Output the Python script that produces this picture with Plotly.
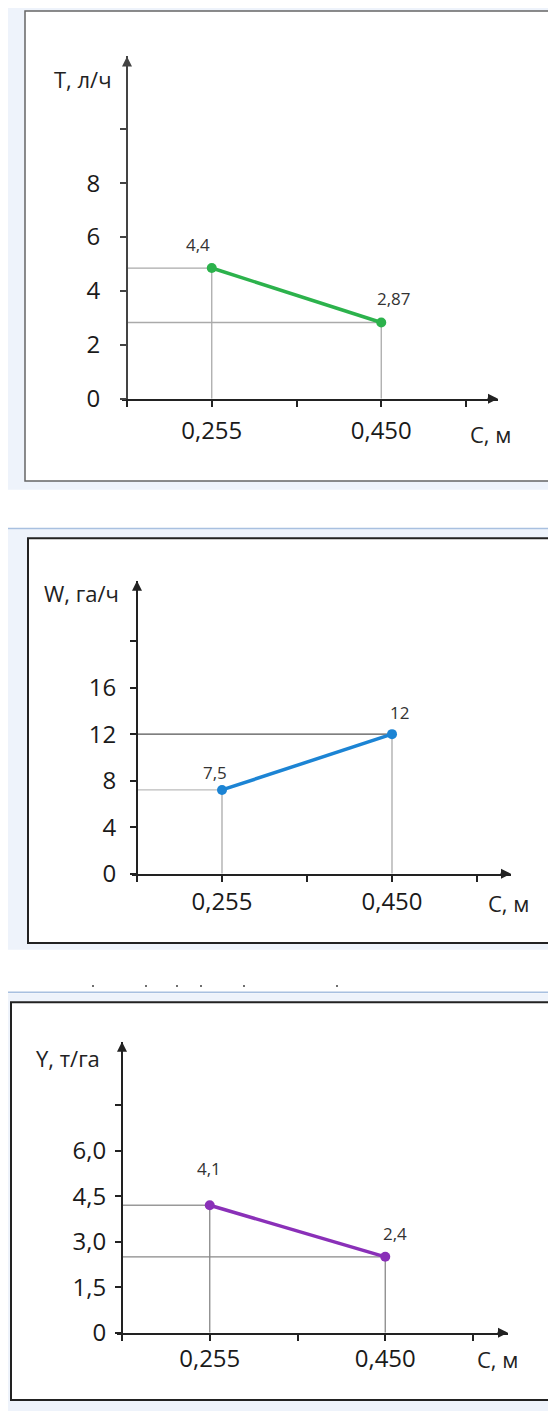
import plotly.graph_objects as go

WIN_W, WIN_H = 556, 1419
PAGE_MARGIN = 8  # html body margin around the figure
FIG_W, FIG_H = WIN_W - 2 * PAGE_MARGIN, WIN_H - 2 * PAGE_MARGIN
FONT = "Open Sans"

# shared x axis: C, m (schematic, two measured widths)
c_ticks = ["", "0,255", "", "0,450", ""]
c_points = ["0,255", "0,450"]

# T, l/h
t_ticks = [0, 2, 4, 6, 8, 10]
t_tick_text = ["0", "2", "4", "6", "8", ""]
t_values = [4.85, 2.83]
t_labels = ["4,4", "2,87"]

# W, ha/h
w_ticks = [0, 4, 8, 12, 16, 20]
w_tick_text = ["0", "4", "8", "12", "16", ""]
w_values = [7.2, 12.0]
w_labels = ["7,5", "12"]

# Y, t/ha
y_ticks = [0, 1.5, 3.0, 4.5, 6.0, 7.5]
y_tick_text = ["0", "1,5", "3,0", "4,5", "6,0", ""]
y_values = [4.2, 2.5]
y_labels = ["4,1", "2,4"]


# window pixel -> paper fraction
def px_x(p):
    return (p - PAGE_MARGIN) / FIG_W


def px_y(p):
    return 1 - (p - PAGE_MARGIN) / FIG_H


panels = [
    dict(title="T, л/ч", ticks=t_ticks, tick_text=t_tick_text, values=t_values,
         labels=t_labels, color="#2cb24c",
         x_left=122, x_origin=127, x_unit=84.75, x_right=498,
         y_origin=403, y_top=57, y_unit=27.25,
         title_pos=(83, 80), c_pos=(490, 439), y_standoff=15, x_standoff=3,
         label_shift=[(-14, 24), (13, 24)],
         h_colors=["#aaaaaa", "#aaaaaa"], v_color="#aaaaaa", axis_color="#444444"),
    dict(title="W, га/ч", ticks=w_ticks, tick_text=w_tick_text, values=w_values,
         labels=w_labels, color="#1c84d4",
         x_left=132, x_origin=137, x_unit=85, x_right=511,
         y_origin=883, y_top=587, y_unit=11.75,
         title_pos=(81, 599), c_pos=(508, 913), y_standoff=9, x_standoff=0,
         label_shift=[(-7, 17), (7, 22)],
         h_colors=["#bbbbbb", "#555555"], v_color="#aaaaaa", axis_color="#222222"),
    dict(title="Y, т/га", ticks=y_ticks, tick_text=y_tick_text, values=y_values,
         labels=y_labels, color="#8a30b8",
         x_left=117, x_origin=122, x_unit=87.75, x_right=508,
         y_origin=1347, y_top=1053, y_unit=30.67,
         title_pos=(68, 1069), c_pos=(497, 1374), y_standoff=4, x_standoff=-2,
         label_shift=[(-1, 37), (10, 23)],
         h_colors=["#999999", "#888888"], v_color="#888888", axis_color="#222222"),
]

fig = go.Figure()
annotations = []
shapes = []

# panel frames (copied screenshot look)
bg = "#eef3fb"
shapes += [
    dict(type="rect", xref="paper", yref="paper", x0=px_x(8), x1=px_x(560),
         y0=px_y(495), y1=px_y(5), fillcolor=bg, line=dict(width=0), layer="below"),
    dict(type="rect", xref="paper", yref="paper", x0=px_x(25), x1=px_x(553),
         y0=px_y(486), y1=px_y(11), fillcolor="white",
         line=dict(color="#666666", width=1.5), layer="below"),
    dict(type="rect", xref="paper", yref="paper", x0=px_x(4), x1=px_x(560),
         y0=px_y(960), y1=px_y(535), fillcolor=bg, line=dict(width=0), layer="below"),
    dict(type="line", xref="paper", yref="paper", x0=px_x(4), x1=px_x(560),
         y0=px_y(534), y1=px_y(534), line=dict(color="#a8c0e0", width=1.5), layer="below"),
    dict(type="rect", xref="paper", yref="paper", x0=px_x(28), x1=px_x(566),
         y0=px_y(953), y1=px_y(544), fillcolor="white",
         line=dict(color="#222222", width=2), layer="below"),
    dict(type="rect", xref="paper", yref="paper", x0=px_x(0), x1=px_x(560),
         y0=px_y(1430), y1=px_y(1004), fillcolor=bg, line=dict(width=0), layer="below"),
    dict(type="line", xref="paper", yref="paper", x0=px_x(0), x1=px_x(560),
         y0=px_y(1003), y1=px_y(1003), line=dict(color="#a8c0e0", width=1.5), layer="below"),
    dict(type="rect", xref="paper", yref="paper", x0=px_x(11), x1=px_x(566),
         y0=px_y(1415), y1=px_y(1013), fillcolor="white",
         line=dict(color="#222222", width=2), layer="below"),
]
# stray marks left over above the last panel
for sx in [93, 146, 177, 201, 244, 337]:
    shapes.append(dict(type="rect", xref="paper", yref="paper",
                       x0=px_x(sx - 0.7), x1=px_x(sx + 0.7),
                       y0=px_y(997.5), y1=px_y(995.5),
                       fillcolor="#333333", line=dict(width=0), layer="below"))

x_pos = [c_ticks.index(c) for c in c_points]

for i, p in enumerate(panels, start=1):
    xa = "x" if i == 1 else f"x{i}"
    ya = "y" if i == 1 else f"y{i}"
    x_range = [(p["x_left"] - p["x_origin"]) / p["x_unit"],
               (p["x_right"] - p["x_origin"]) / p["x_unit"]]
    y_range = [0, (p["y_origin"] - p["y_top"]) / p["y_unit"]]

    # guide lines to the axes
    for xv, yv, hc in zip(x_pos, p["values"], p["h_colors"]):
        fig.add_trace(go.Scatter(x=[xv, xv], y=[yv, 0], mode="lines",
                                 line=dict(color=p["v_color"], width=1.3),
                                 xaxis=xa, yaxis=ya, hoverinfo="skip"))
        fig.add_trace(go.Scatter(x=[0, xv], y=[yv, yv], mode="lines",
                                 line=dict(color=hc, width=1.3),
                                 xaxis=xa, yaxis=ya, hoverinfo="skip"))

    fig.add_trace(go.Scatter(x=x_pos, y=p["values"], mode="lines+markers",
                             line=dict(color=p["color"], width=3.5),
                             marker=dict(size=10, color=p["color"]),
                             xaxis=xa, yaxis=ya))

    for xv, yv, lab, (dx, dy) in zip(x_pos, p["values"], p["labels"], p["label_shift"]):
        annotations.append(dict(x=xv, y=yv, xref=xa, yref=ya, text=lab,
                                showarrow=False, xshift=dx, yshift=dy,
                                xanchor="center", yanchor="middle",
                                font=dict(family=FONT, size=17, color="#333333")))

    # axis arrowheads
    annotations.append(dict(x=x_range[1], y=0, xref=xa, yref=ya, ax=-12, ay=0,
                            text="", showarrow=True, arrowhead=2, arrowsize=1,
                            arrowwidth=2, arrowcolor="#222222"))
    annotations.append(dict(x=0, y=y_range[1], xref=xa, yref=ya, ax=0, ay=12,
                            text="", showarrow=True, arrowhead=2, arrowsize=1,
                            arrowwidth=2, arrowcolor=p["axis_color"]))

    annotations.append(dict(x=px_x(p["title_pos"][0]), y=px_y(p["title_pos"][1]),
                            xref="paper", yref="paper", text=p["title"],
                            xanchor="center", yanchor="middle",
                            showarrow=False, font=dict(family=FONT, size=22, color="#222222")))
    annotations.append(dict(x=px_x(p["c_pos"][0]), y=px_y(p["c_pos"][1]),
                            xref="paper", yref="paper", text="C, м",
                            xanchor="center", yanchor="middle",
                            showarrow=False, font=dict(family=FONT, size=22, color="#222222")))

    fig.layout[f"xaxis{'' if i == 1 else i}"] = dict(
        domain=[px_x(p["x_left"]), px_x(p["x_right"])], range=x_range,
        anchor=ya, showline=True, linecolor="#222222", linewidth=2,
        ticks="outside", ticklen=6, tickwidth=1.5, tickcolor="#222222",
        tickvals=list(range(len(c_ticks))), ticktext=c_ticks,
        ticklabelstandoff=p["x_standoff"],
        showgrid=False, zeroline=False, fixedrange=True,
        tickfont=dict(family=FONT, size=24, color="#1a1a1a"))
    fig.layout[f"yaxis{'' if i == 1 else i}"] = dict(
        domain=[px_y(p["y_origin"]), px_y(p["y_top"])], range=y_range,
        anchor="free", position=px_x(p["x_origin"]),
        showline=True, linecolor=p["axis_color"], linewidth=2,
        ticks="outside", ticklen=6, tickwidth=1.5, tickcolor=p["axis_color"],
        tickvals=p["ticks"], ticktext=p["tick_text"],
        ticklabelstandoff=p["y_standoff"],
        showgrid=False, zeroline=False, fixedrange=True,
        tickfont=dict(family=FONT, size=24, color="#1a1a1a"))

fig.update_layout(
    width=FIG_W, height=FIG_H, autosize=False,
    margin=dict(l=0, r=0, t=0, b=0),
    paper_bgcolor="white", plot_bgcolor="rgba(0,0,0,0)",
    showlegend=False, shapes=shapes, annotations=annotations,
)

fig.write_html("out.html")
